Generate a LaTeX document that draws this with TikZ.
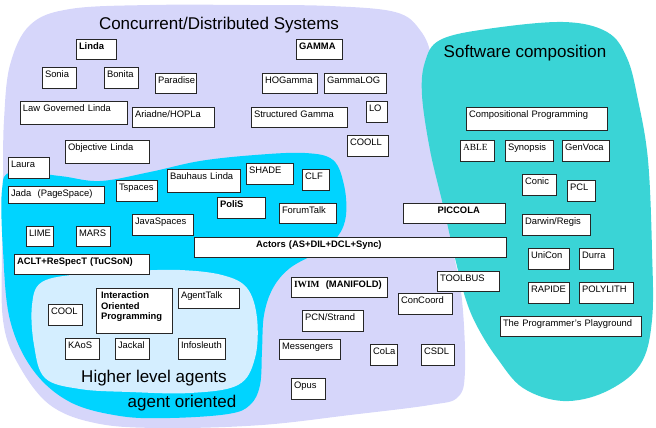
\documentclass[tikz,border=0pt]{standalone}
\usepackage{fontspec}
\setmainfont{Liberation Sans}
\newfontfamily\tms{Liberation Serif}
\definecolor{lavender}{RGB}{214,214,250}
\definecolor{agentcyan}{RGB}{0,212,255}
\definecolor{compteal}{RGB}{58,212,214}
\definecolor{hlblue}{RGB}{212,238,255}
\tikzset{
  box/.style={draw=black!85, line width=1pt, fill=white, anchor=north west, inner xsep=2.5pt, inner ysep=0pt, align=left, font=\fontsize{9.4}{10.7}\selectfont, text height=9.8pt},
  title/.style={anchor=base, font=\fontsize{17}{20}\selectfont},
}
\begin{document}
\begin{tikzpicture}[x=1pt, y=-1pt]
\useasboundingbox (0,0) rectangle (656,428);
%regions
\fill[lavender] plot[smooth cycle, tension=0.6] coordinates {(3,175) (4,120) (10,65) (30,25) (70,9) (150,5) (250,5) (330,6) (395,12) (420,30) (432,60) (437,120) (443,190) (452,245) (462,300) (465,370) (458,397) (430,405) (350,415) (262,425) (170,428) (100,424) (50,405) (17,362) (3,320) (2,250)}; %concurrent
\fill[compteal] plot[smooth cycle, tension=0.6] coordinates {(422,95) (425,62) (440,40) (487,29) (563,22) (607,32) (627,58) (638,100) (648,160) (652,250) (652,320) (640,365) (605,392) (563,401) (523,388) (497,358) (478,328) (466,300) (455,258) (443,205) (430,150)}; %composition
\fill[agentcyan] plot[smooth cycle, tension=0.6] coordinates {(2,190) (12,172) (60,176) (100,181) (150,172) (200,161) (255,155) (305,153) (333,160) (344,185) (346,215) (338,236) (318,252) (290,268) (273,288) (264,315) (262,350) (260,385) (250,405) (228,414) (170,418) (120,416) (70,402) (33,370) (10,320) (3,250)}; %agent oriented
\fill[hlblue] plot[smooth cycle, tension=0.6] coordinates {(32,305) (42,282) (80,274) (133,271) (180,270) (222,275) (247,288) (257,318) (255,358) (238,385) (190,393) (130,392) (80,389) (45,378) (34,345)}; %higher level
%boxes
\foreach \n/\xa/\ya/\xb/\yb/\txt in {
  linda/76/39/116/59/\textbf{Linda}, sonia/42/67/76/88/Sonia, bonita/104/67/138/88/Bonita,
  paradise/155/73/196/93/Paradise, lgl/20/101/127/124/Law Governed Linda, ariadne/132/107/214/127/{Ariadne/HOPLa},
  objlinda/65/140/149/163/Objective Linda, laura/8/157/49/178/Laura, jada/8/186/104/203/Jada~ (PageSpace),
  tspaces/116/180/157/201/Tspaces, bauhaus/167/169/240/192/Bauhaus Linda,
  gamma/296/39/342/59/\textbf{GAMMA}, hogamma/262/73/317/93/HOGamma, gammalog/324/73/386/93/GammaLOG,
  sgamma/251/107/347/127/Structured Gamma, lo/366/101/387/122/LO, cooll/347/135/388/156/COOLL,
  shade/246/163/293/184/SHADE, clf/302/169/329/190/CLF, polis/217/197/265/218/\textbf{PoliS},
  forumtalk/279/203/336/223/ForumTalk, javaspaces/132/214/193/235/JavaSpaces,
  actors/194/237/506/257/\hspace*{59pt}\textbf{Actors (AS+DIL+DCL+Sync)},
  piccola/403/203/505/223/\hspace*{31.5pt}\textbf{PICCOLA},
  lime/26/226/53/246/LIME, mars/76/226/110/246/MARS, aclt/14/254/149/274/\textbf{ACLT+ReSpecT (TuCSoN)},
  iop/96/288/172/333/{\bfseries\hspace*{2pt}Interaction\\\hspace*{2pt}Oriented\\\hspace*{2pt}Programming},
  agenttalk/178/288/239/308/AgentTalk, cool/48/304/82/325/COOL,
  kaos/65/338/99/359/KAoS, jackal/115/338/149/359/Jackal, infosleuth/178/338/225/359/Infosleuth,
  iwim/291/277/387/297/{{\tms\bfseries IWIM}\ \ \textbf{(MANIFOLD)}}, toolbus/437/271/499/291/TOOLBUS,
  concoord/398/293/452/314/ConCoord, pcn/302/310/363/331/{PCN/Strand}, messengers/279/339/340/359/Messengers,
  cola/370/344/397/365/CoLa, csdl/421/344/454/365/CSDL, opus/291/378/325/399/Opus,
  comprog/466/107/607/130/Compositional Programming, able/460/140/494/161/{\tms ABLE},
  synopsis/505/140/553/161/Synopsis, genvoca/562/140/609/161/GenVoca,
  conic/522/174/556/195/Conic, pcl/567/180/595/201/PCL, darwin/522/214/590/235/{Darwin/Regis},
  unicon/528/248/569/269/UniCon, durra/579/248/613/269/Durra,
  rapide/528/282/569/303/RAPIDE, polylith/579/282/633/303/POLYLITH,
  playground/500/316/641/336/The Programmer's Playground}{
  \pgfmathsetmacro\bw{\xb-\xa-5}
  \pgfmathsetmacro\bd{\yb-\ya-9.8}
  \node[box, text width=\bw pt, text depth=\bd pt] (\n) at (\xa,\ya) {\txt};
}
%label
\node[title] (cds) at (219,30) {Concurrent/Distributed Systems};
\node[title] (swc) at (525,58) {Software composition};
\node[title] (hla) at (154,382) {Higher level agents};
\node[title] (ao) at (182,407) {agent oriented};
\end{tikzpicture}
\end{document}
